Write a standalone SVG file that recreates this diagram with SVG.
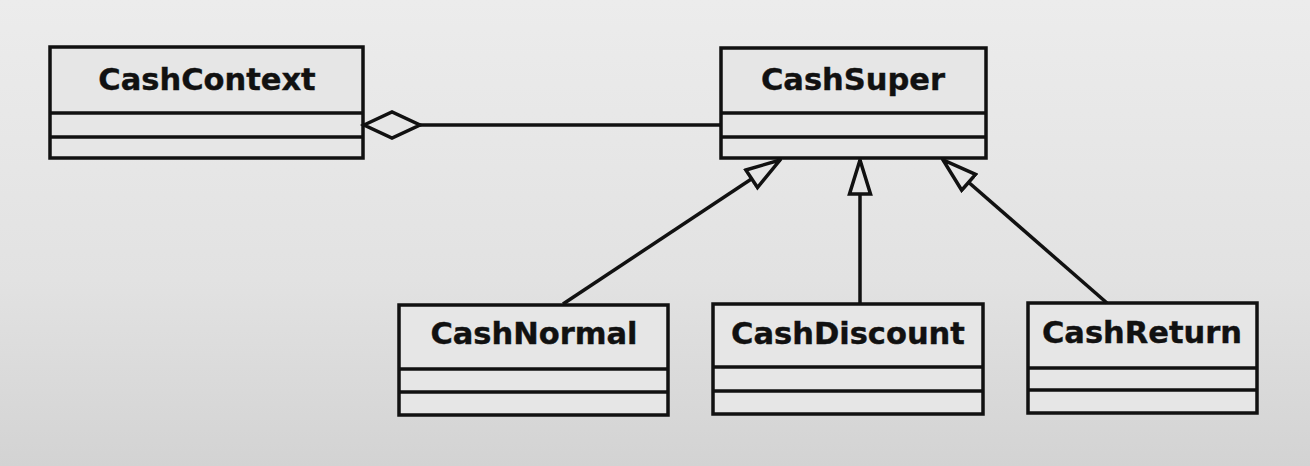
<svg xmlns="http://www.w3.org/2000/svg" width="1310" height="466" viewBox="0 0 1310 466">
<defs>
<linearGradient id="bg" x1="0" y1="0" x2="0" y2="1">
<stop offset="0" stop-color="#ececec"/>
<stop offset="0.6" stop-color="#e2e2e2"/>
<stop offset="1" stop-color="#d3d3d3"/>
</linearGradient>
<marker id="tri" viewBox="0 0 38 26" refX="36" refY="13" markerWidth="38" markerHeight="26" markerUnits="userSpaceOnUse" orient="auto">
<path d="M2,2.5 L36,13 L2,23.5 Z" fill="#e6e6e6" stroke="#111" stroke-width="3.5" stroke-linejoin="miter"/>
</marker>
</defs>
<style>
.box{fill:#e6e6e6;stroke:#111;stroke-width:3.5}
.div{stroke:#111;stroke-width:3.5}
.lbl{font-family:"DejaVu Sans",Verdana,sans-serif;font-weight:bold;font-size:30.5px;fill:#111;stroke:#111;stroke-width:0.4;text-anchor:middle}
.con{stroke:#111;stroke-width:3.5;fill:none}
</style>
<rect width="1310" height="466" fill="url(#bg)"/>
<g id="CashContext">
<rect class="box" x="50" y="47" width="313" height="111"/>
<line class="div" x1="50" y1="113" x2="363" y2="113"/>
<line class="div" x1="50" y1="137" x2="363" y2="137"/>
<text class="lbl" x="207" y="90">CashContext</text>
</g>
<g id="CashSuper">
<rect class="box" x="721" y="48" width="265" height="110"/>
<line class="div" x1="721" y1="113" x2="986" y2="113"/>
<line class="div" x1="721" y1="137" x2="986" y2="137"/>
<text class="lbl" x="853" y="90">CashSuper</text>
</g>
<g id="CashNormal">
<rect class="box" x="399" y="305" width="269" height="110"/>
<line class="div" x1="399" y1="369" x2="668" y2="369"/>
<line class="div" x1="399" y1="392" x2="668" y2="392"/>
<text class="lbl" x="534" y="344">CashNormal</text>
</g>
<g id="CashDiscount">
<rect class="box" x="713" y="304" width="270" height="110"/>
<line class="div" x1="713" y1="367" x2="983" y2="367"/>
<line class="div" x1="713" y1="391" x2="983" y2="391"/>
<text class="lbl" x="848" y="344">CashDiscount</text>
</g>
<g id="CashReturn">
<rect class="box" x="1028" y="303" width="229" height="110"/>
<line class="div" x1="1028" y1="368" x2="1257" y2="368"/>
<line class="div" x1="1028" y1="390" x2="1257" y2="390"/>
<text class="lbl" x="1142" y="343">CashReturn</text>
</g>
<g id="connectors">
<line class="con" x1="420" y1="125" x2="721" y2="125"/>
<path d="M364,125 L392,112 L420,125 L392,138 Z" fill="#e6e6e6" stroke="#111" stroke-width="3.5"/>
<line class="con" x1="563" y1="304" x2="780" y2="160" marker-end="url(#tri)"/>
<line class="con" x1="860" y1="303" x2="860" y2="160" marker-end="url(#tri)"/>
<line class="con" x1="1107" y1="303" x2="943" y2="160" marker-end="url(#tri)"/>
</g>
</svg>
